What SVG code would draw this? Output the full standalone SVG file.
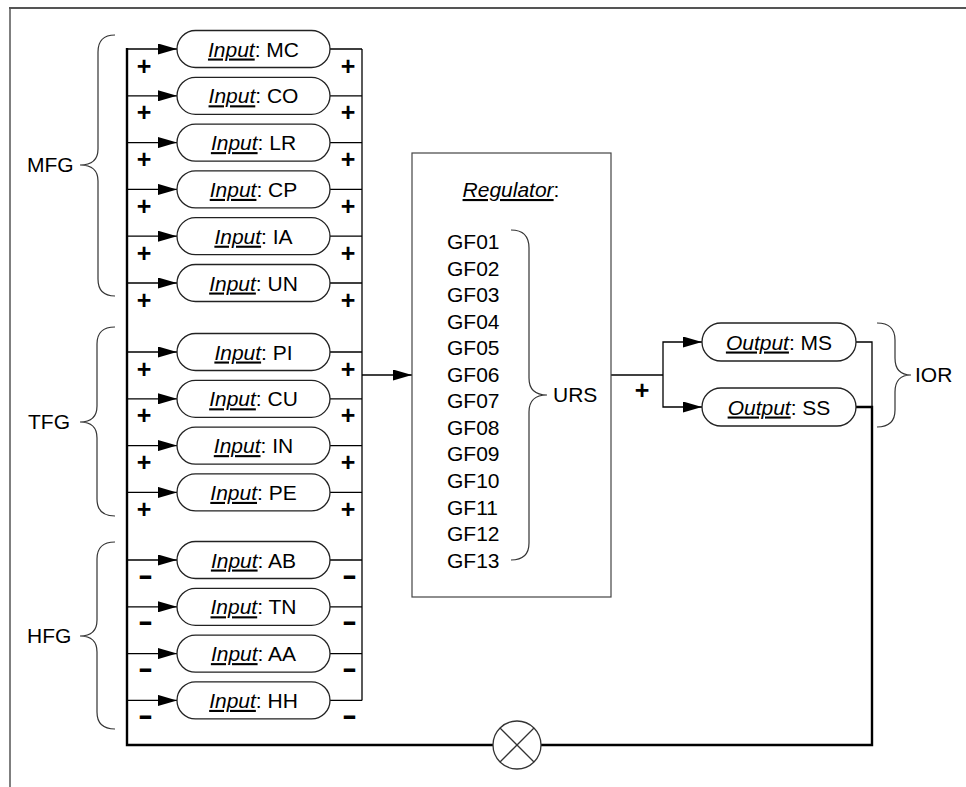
<svg xmlns="http://www.w3.org/2000/svg" width="966" height="787" viewBox="0 0 966 787">
<style>
.pill{fill:#fff;stroke:#222;stroke-width:1.3}
.lbl{font-family:"Liberation Sans",Arial,sans-serif;font-size:21px;fill:#000}
.mid{text-anchor:middle}
.it{font-style:italic;text-decoration:underline}
.sign{font-family:"Liberation Sans",Arial,sans-serif;font-weight:bold;font-size:25px;text-anchor:middle;fill:#000}
.minus{font-family:"Liberation Sans",Arial,sans-serif;font-weight:bold;font-size:30px;text-anchor:middle;fill:#000}
.ln{stroke:#000;stroke-width:1.3;fill:none}
.thick{stroke-width:2.4}
.brace{fill:none;stroke:#333;stroke-width:1.2}
.frame{stroke:#555;fill:none}
</style>
<defs>
<marker id="ah" markerUnits="userSpaceOnUse" markerWidth="19" markerHeight="11" refX="19" refY="5.5" orient="auto">
<path d="M0,0 L19,5.5 L0,11 z" fill="#000"/>
</marker>
</defs>
<rect width="966" height="787" fill="#fff"/>
<g id="frame">
<line class="frame" x1="9" y1="8" x2="966" y2="8" stroke-width="2.2"/>
<line class="frame" x1="10" y1="8" x2="10" y2="787" stroke-width="1.5"/>
</g>
<g id="connectors">
<path class="ln" d="M127,49 H177" marker-end="url(#ah)"/>
<path class="ln" d="M127,95.8 H177" marker-end="url(#ah)"/>
<path class="ln" d="M127,142.6 H177" marker-end="url(#ah)"/>
<path class="ln" d="M127,189.4 H177" marker-end="url(#ah)"/>
<path class="ln" d="M127,236.2 H177" marker-end="url(#ah)"/>
<path class="ln" d="M127,283 H177" marker-end="url(#ah)"/>
<path class="ln" d="M127,352 H177" marker-end="url(#ah)"/>
<path class="ln" d="M127,398.8 H177" marker-end="url(#ah)"/>
<path class="ln" d="M127,445.6 H177" marker-end="url(#ah)"/>
<path class="ln" d="M127,492.4 H177" marker-end="url(#ah)"/>
<path class="ln" d="M127,560 H177" marker-end="url(#ah)"/>
<path class="ln" d="M127,606.8 H177" marker-end="url(#ah)"/>
<path class="ln" d="M127,653.6 H177" marker-end="url(#ah)"/>
<path class="ln" d="M127,700.4 H177" marker-end="url(#ah)"/>
<path class="ln" d="M330,49 H362 M330,95.8 H362 M330,142.6 H362 M330,189.4 H362 M330,236.2 H362 M330,283 H362 M330,352 H362 M330,398.8 H362 M330,445.6 H362 M330,492.4 H362 M330,560 H362 M330,606.8 H362 M330,653.6 H362 M330,700.4 H362"/>
<path class="ln" d="M362,49 V700.4" stroke-width="1.6"/>
<path class="ln thick" d="M127,48 V745 H493"/>
<path class="ln thick" d="M541,745 H872 V407 H856"/>
<path class="ln" d="M872,407 V342 H856"/>
<path class="ln" d="M362,375 H412" stroke-width="2" marker-end="url(#ah)"/>
<path class="ln" d="M611,375 H663"/>
<path class="ln" d="M663,375 V342 H702" marker-end="url(#ah)"/>
<path class="ln" d="M663,375 V407 H702" marker-end="url(#ah)"/>
<text class="sign" x="144" y="74.5">+</text><text class="sign" x="348" y="74.5">+</text>
<text class="sign" x="144" y="121.3">+</text><text class="sign" x="348" y="121.3">+</text>
<text class="sign" x="144" y="168.1">+</text><text class="sign" x="348" y="168.1">+</text>
<text class="sign" x="144" y="214.9">+</text><text class="sign" x="348" y="214.9">+</text>
<text class="sign" x="144" y="261.7">+</text><text class="sign" x="348" y="261.7">+</text>
<text class="sign" x="144" y="308.5">+</text><text class="sign" x="348" y="308.5">+</text>
<text class="sign" x="144" y="377.5">+</text><text class="sign" x="348" y="377.5">+</text>
<text class="sign" x="144" y="424.3">+</text><text class="sign" x="348" y="424.3">+</text>
<text class="sign" x="144" y="471.1">+</text><text class="sign" x="348" y="471.1">+</text>
<text class="sign" x="144" y="517.9">+</text><text class="sign" x="348" y="517.9">+</text>
<text class="minus" transform="translate(145.5,584.6) scale(1.5,1)">-</text><text class="minus" transform="translate(349.5,584.6) scale(1.5,1)">-</text>
<text class="minus" transform="translate(145.5,631.4) scale(1.5,1)">-</text><text class="minus" transform="translate(349.5,631.4) scale(1.5,1)">-</text>
<text class="minus" transform="translate(145.5,678.2) scale(1.5,1)">-</text><text class="minus" transform="translate(349.5,678.2) scale(1.5,1)">-</text>
<text class="minus" transform="translate(145.5,725) scale(1.5,1)">-</text><text class="minus" transform="translate(349.5,725) scale(1.5,1)">-</text>
<text class="sign" x="642" y="399">+</text>
</g>
<g id="in-MC"><rect class="pill" x="177" y="30.5" width="153" height="37" rx="18.5"/><text class="lbl mid" x="253.5" y="56.5"><tspan class="it">Input</tspan>: MC</text></g>
<g id="in-CO"><rect class="pill" x="177" y="77.3" width="153" height="37" rx="18.5"/><text class="lbl mid" x="253.5" y="103.3"><tspan class="it">Input</tspan>: CO</text></g>
<g id="in-LR"><rect class="pill" x="177" y="124.1" width="153" height="37" rx="18.5"/><text class="lbl mid" x="253.5" y="150.1"><tspan class="it">Input</tspan>: LR</text></g>
<g id="in-CP"><rect class="pill" x="177" y="170.9" width="153" height="37" rx="18.5"/><text class="lbl mid" x="253.5" y="196.9"><tspan class="it">Input</tspan>: CP</text></g>
<g id="in-IA"><rect class="pill" x="177" y="217.7" width="153" height="37" rx="18.5"/><text class="lbl mid" x="253.5" y="243.7"><tspan class="it">Input</tspan>: IA</text></g>
<g id="in-UN"><rect class="pill" x="177" y="264.5" width="153" height="37" rx="18.5"/><text class="lbl mid" x="253.5" y="290.5"><tspan class="it">Input</tspan>: UN</text></g>
<g id="in-PI"><rect class="pill" x="177" y="333.5" width="153" height="37" rx="18.5"/><text class="lbl mid" x="253.5" y="359.5"><tspan class="it">Input</tspan>: PI</text></g>
<g id="in-CU"><rect class="pill" x="177" y="380.3" width="153" height="37" rx="18.5"/><text class="lbl mid" x="253.5" y="406.3"><tspan class="it">Input</tspan>: CU</text></g>
<g id="in-IN"><rect class="pill" x="177" y="427.1" width="153" height="37" rx="18.5"/><text class="lbl mid" x="253.5" y="453.1"><tspan class="it">Input</tspan>: IN</text></g>
<g id="in-PE"><rect class="pill" x="177" y="473.9" width="153" height="37" rx="18.5"/><text class="lbl mid" x="253.5" y="499.9"><tspan class="it">Input</tspan>: PE</text></g>
<g id="in-AB"><rect class="pill" x="177" y="541.5" width="153" height="37" rx="18.5"/><text class="lbl mid" x="253.5" y="567.5"><tspan class="it">Input</tspan>: AB</text></g>
<g id="in-TN"><rect class="pill" x="177" y="588.3" width="153" height="37" rx="18.5"/><text class="lbl mid" x="253.5" y="614.3"><tspan class="it">Input</tspan>: TN</text></g>
<g id="in-AA"><rect class="pill" x="177" y="635.1" width="153" height="37" rx="18.5"/><text class="lbl mid" x="253.5" y="661.1"><tspan class="it">Input</tspan>: AA</text></g>
<g id="in-HH"><rect class="pill" x="177" y="681.9" width="153" height="37" rx="18.5"/><text class="lbl mid" x="253.5" y="707.9"><tspan class="it">Input</tspan>: HH</text></g>
<g id="MFG"><path class="brace" d="M115,35 Q98,35 98,52 L98,149 Q98,165 80,165 Q98,165 98,181 L98,279 Q98,296 115,296"/><text class="lbl" x="27" y="172">MFG</text></g>
<g id="TFG"><path class="brace" d="M115,327 Q97,327 97,344 L97,406 Q97,422 80,422 Q97,422 97,438 L97,499 Q97,516 115,516"/><text class="lbl" x="28" y="429">TFG</text></g>
<g id="HFG"><path class="brace" d="M115,542 Q97,542 97,559 L97,620 Q97,636 80,636 Q97,636 97,652 L97,712 Q97,729 115,729"/><text class="lbl" x="27" y="643">HFG</text></g>
<g id="regulator">
<rect x="412" y="153" width="199" height="444" fill="#fff" stroke="#444" stroke-width="1.2"/>
<text class="lbl mid" x="511" y="197"><tspan class="it">Regulator</tspan>:</text>
<text class="lbl" x="447" y="249">GF01</text>
<text class="lbl" x="447" y="275.6">GF02</text>
<text class="lbl" x="447" y="302.1">GF03</text>
<text class="lbl" x="447" y="328.7">GF04</text>
<text class="lbl" x="447" y="355.2">GF05</text>
<text class="lbl" x="447" y="381.8">GF06</text>
<text class="lbl" x="447" y="408.3">GF07</text>
<text class="lbl" x="447" y="434.9">GF08</text>
<text class="lbl" x="447" y="461.4">GF09</text>
<text class="lbl" x="447" y="488">GF10</text>
<text class="lbl" x="447" y="514.5">GF11</text>
<text class="lbl" x="447" y="541.1">GF12</text>
<text class="lbl" x="447" y="567.6">GF13</text>
<path class="brace" d="M511,230 Q529,230 529,248 L529,378 Q529,395 547,395 Q529,395 529,412 L529,543 Q529,560 511,560"/>
<text class="lbl" x="553" y="402">URS</text>
</g>
<g id="out-MS"><rect class="pill" x="702" y="323" width="154" height="38" rx="19"/><text class="lbl mid" x="779" y="349.5"><tspan class="it">Output</tspan>: MS</text></g>
<g id="out-SS"><rect class="pill" x="702" y="388" width="154" height="38" rx="19"/><text class="lbl mid" x="779" y="414.5"><tspan class="it">Output</tspan>: SS</text></g>
<g id="IOR"><path class="brace" d="M877,323 Q895,323 895,340 L895,358 Q895,375 911,375 Q895,375 895,392 L895,410 Q895,427 877,427"/><text class="lbl" x="915" y="382">IOR</text></g>
<g id="comparator"><circle cx="517" cy="745" r="24" fill="#fff" stroke="#333" stroke-width="1.3"/><path d="M500,728 L534,762 M534,728 L500,762" stroke="#333" stroke-width="1.3"/></g>
</svg>
